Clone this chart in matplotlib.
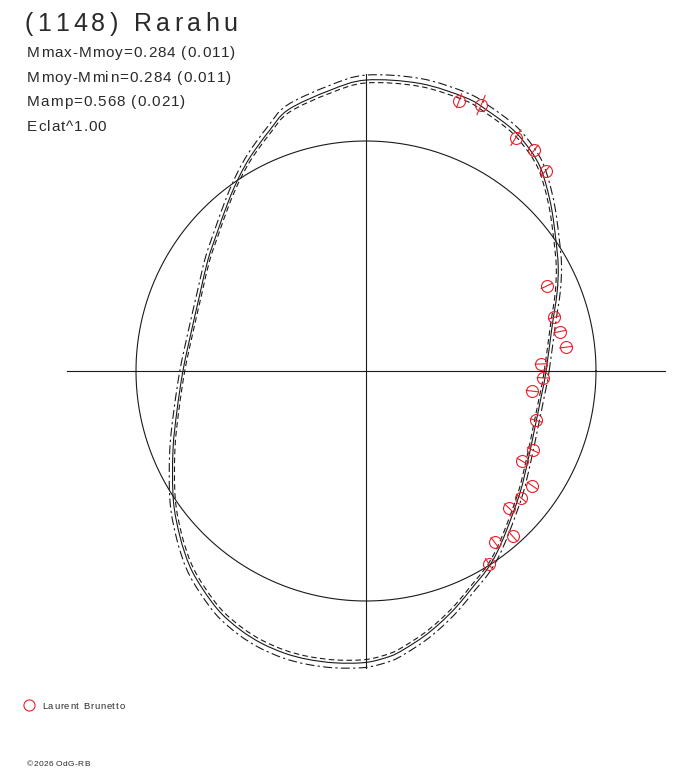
import numpy as np
import matplotlib
matplotlib.use("Agg")
import matplotlib.pyplot as plt
from matplotlib.path import Path
from matplotlib.patches import PathPatch

# model curve: phase angle (deg) and radius (circle = 1)
curve_phase = [0, 13.3, 22.2, 28.5, 34.6, 40.9, 45.6, 49.6, 53.4, 58.6, 65.2, 70,
               79.4, 90, 97.4, 106.6, 112, 118.2, 123, 128.7, 137.2, 144.9, 154.8,
               169.1, 180, 191.7, 202.3, 213.8, 221.7, 228, 233.4, 238.9, 244.3,
               249, 253.9, 258.5, 264, 270, 274.8, 277.7, 282.2, 286.3, 291, 296.4,
               301.2, 305.6, 311.5, 321.6, 331.2, 341.7, 352.9]
curve_radius = [0.783, 0.831, 0.897, 0.951, 1.003, 1.069, 1.122, 1.167, 1.197,
                1.228, 1.250, 1.265, 1.272, 1.265, 1.230, 1.185, 1.125, 1.060,
                1.010, 0.953, 0.883, 0.840, 0.797, 0.779, 0.796, 0.839, 0.907,
                1.008, 1.083, 1.144, 1.186, 1.226, 1.252, 1.268, 1.277, 1.279,
                1.276, 1.267, 1.245, 1.222, 1.182, 1.143, 1.098, 1.047, 1.012,
                0.975, 0.923, 0.854, 0.804, 0.774, 0.771]
upper_factor = 1.017
lower_factor = 0.99

# observations (Laurent Brunetto)
obs_phase = [71.0, 66.6, 57.3, 52.7, 48.1, 25.2, 15.9, 11.5, 6.8, 2.3, 357.8,
             353.1, 343.8, 334.6, 330.0, 325.4, 320.7, 316.2, 311.6, 306.9, 302.5]
obs_radius = [1.243, 1.260, 1.206, 1.208, 1.169, 0.868, 0.851, 0.861, 0.874,
              0.763, 0.771, 0.728, 0.770, 0.803, 0.785, 0.878, 0.872, 0.861,
              0.960, 0.932, 0.995]
obs_err = [0.032, 0.045, 0.040, 0.026, 0.028, 0.026, 0.026, 0.026, 0.026, 0.026,
           0.026, 0.026, 0.026, 0.026, 0.026, 0.026, 0.026, 0.026, 0.026, 0.026,
           0.028]

title = "(1148) Rarahu"
info_lines = ["Mmax-Mmoy=0.284 (0.011)", "Mmoy-Mmin=0.284 (0.011)",
              "Mamp=0.568 (0.021)", "Eclat^1.00"]
observer = "Laurent Brunetto"
footer = "\u00a92026 OdG-RB"

plt.rcParams['font.family'] = ['Liberation Sans', 'DejaVu Sans']

W, H = 688, 768
fig = plt.figure(figsize=(W / 100, H / 100), dpi=100)
ax = fig.add_axes([0, 0, 1, 1])
ax.set_xlim(-366 / 230, (W - 366) / 230)
ax.set_ylim((371 - H) / 230, 371 / 230)
ax.axis('off')

ink = "#1a1a1a"
txt = "#2a2a2a"
lw = 0.8


def spaced_text(x, y, s, size, track):
    # the reference font is drawn with wide letter spacing, so place each char
    r = fig.canvas.get_renderer()
    prop = matplotlib.font_manager.FontProperties(family=plt.rcParams['font.family'],
                                                  size=size)
    base = r.get_text_width_height_descent("aa", prop, ismath=False)[0]
    pos = x
    for ch in s:
        fig.text(pos / W, 1 - y / H, ch, fontsize=size, color=txt)
        adv = r.get_text_width_height_descent("a" + ch + "a", prop, ismath=False)[0] - base
        pos += adv + track


def closed_smooth_path(x, y):
    # closed curve through the points, drawn as cubic bezier segments
    p = np.column_stack([x, y])
    n = len(p)
    verts = [p[0]]
    codes = [Path.MOVETO]
    for i in range(n):
        p0, p1, p2, p3 = p[i - 1], p[i], p[(i + 1) % n], p[(i + 2) % n]
        verts += [p1 + (p2 - p0) / 6, p2 - (p3 - p1) / 6, p2]
        codes += [Path.CURVE4] * 3
    return Path(verts, codes)


# axes cross and unit circle
ax.plot([-1.30, 1.30], [0, 0], color=ink, lw=lw)
ax.plot([0, 0], [-1.29, 1.29], color=ink, lw=lw)
t = np.linspace(0, 2 * np.pi, 400)
ax.plot(np.cos(t), np.sin(t), color=ink, lw=lw)

# model curve with its envelope
ph = np.radians(curve_phase)
rr = np.array(curve_radius)
for k, ls in [(1.0, '-'), (upper_factor, (0, (8, 3, 2, 3))), (lower_factor, (0, (5, 3)))]:
    path = closed_smooth_path(rr * k * np.cos(ph), rr * k * np.sin(ph))
    ax.add_patch(PathPatch(path, fill=False, edgecolor=ink, lw=lw, ls=ls))

# observations with radial error bars
red = "#e8202a"
op = np.radians(obs_phase)
orad = np.array(obs_radius)
oerr = np.array(obs_err)
for a, r, e in zip(op, orad, oerr):
    ax.plot([(r - e) * np.cos(a), (r + e) * np.cos(a)],
            [(r - e) * np.sin(a), (r + e) * np.sin(a)], color=red, lw=lw)
ax.plot(orad * np.cos(op), orad * np.sin(op), 'o', ms=8.6, mfc='none',
        mec=red, mew=lw)

# texts
spaced_text(24, 31, title, 18, 4.3)
for i, line in enumerate(info_lines):
    spaced_text(27, 57 + 24.7 * i, line, 11, 0.95)

fig.lines.append(plt.Line2D([29 / W], [1 - 705 / H], marker='o', ms=8,
                            mfc='none', mec=red, mew=lw,
                            transform=fig.transFigure, figure=fig))
spaced_text(42, 709, observer, 6.8, 0.8)
spaced_text(27, 766, footer, 6, 0.3)

fig.savefig("out.png", dpi=100)
